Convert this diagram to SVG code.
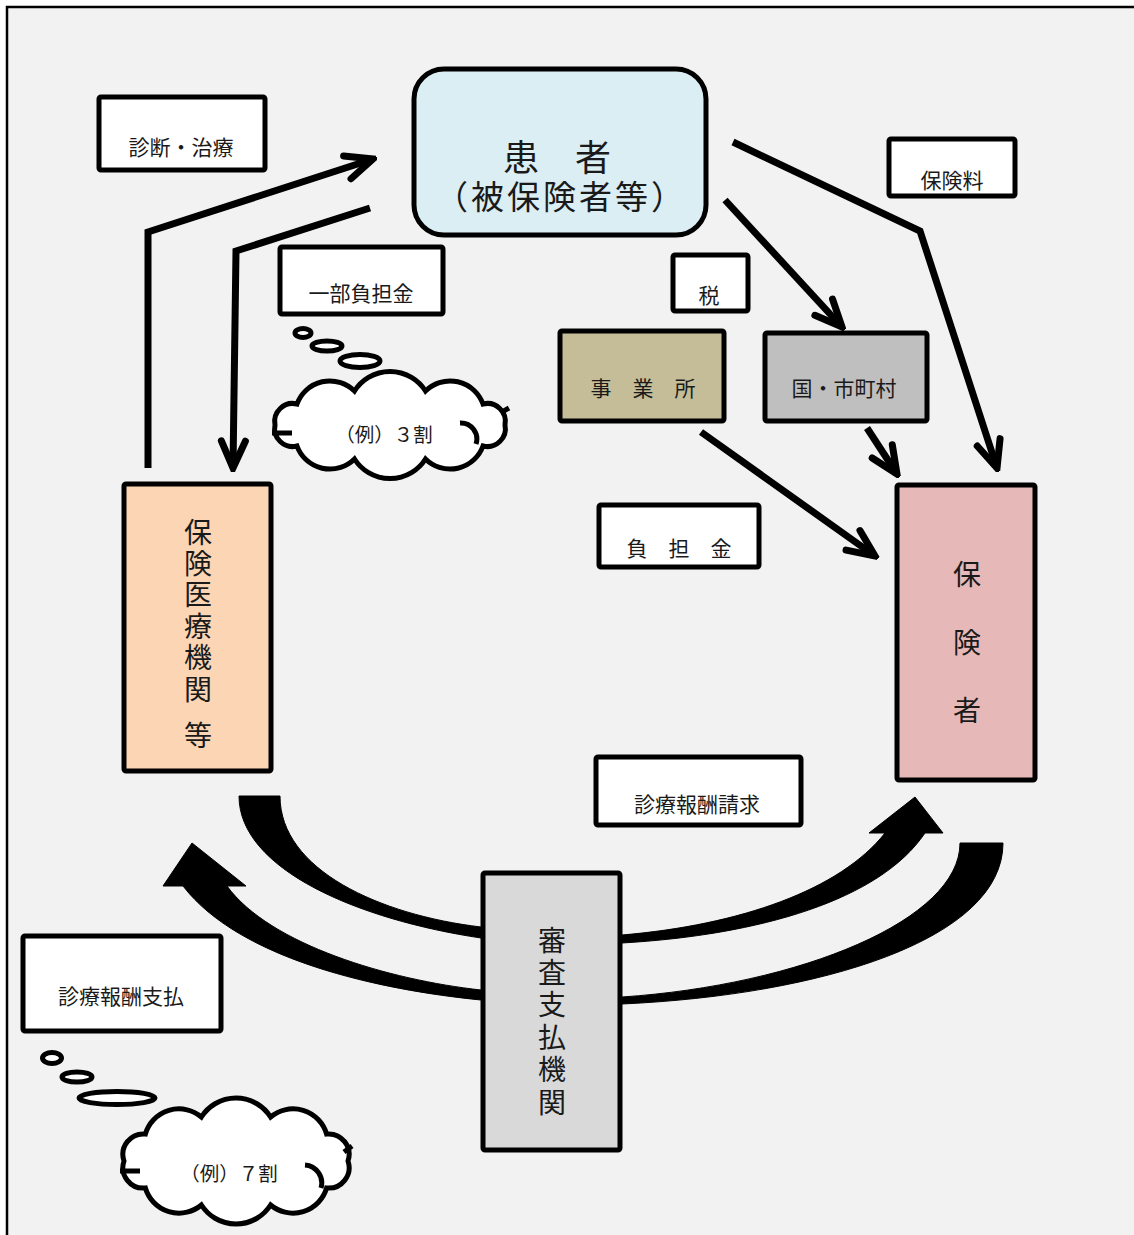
<svg xmlns="http://www.w3.org/2000/svg" width="1134" height="1235" viewBox="0 0 1134 1235">
<defs>
<style>
.frame{fill:#f2f2f2;stroke:#000;stroke-width:2.5}
.box{stroke:#000;stroke-width:5}
.lbl{fill:#fff;stroke:#000;stroke-width:5}
.t{font-family:"Noto Sans CJK JP","Noto Sans CJK SC",sans-serif;font-size:21px;fill:#1a1a1a;text-anchor:middle}
.tv{font-size:28px}
.vert{font-family:"Noto Sans CJK JP","Noto Sans CJK SC",sans-serif;font-size:28px;fill:#1a1a1a;writing-mode:vertical-rl;text-anchor:start}
.conn{fill:none;stroke:#000;stroke-width:7;marker-end:url(#ah)}
.blk{fill:#000;stroke:#000;stroke-width:1;stroke-linejoin:round}
.cloud{fill:#fff;stroke:#000;stroke-width:5}
.inner{fill:none;stroke:#000;stroke-width:5}
</style>
<marker id="ah" viewBox="-36 -20 40 40" refX="0" refY="0" markerWidth="40" markerHeight="40" markerUnits="userSpaceOnUse" orient="auto">
<path d="M-27,-12 L0,0 L-27,12" fill="none" stroke="#000" stroke-width="7" stroke-linecap="round"/>
</marker>
</defs>
<rect x="0" y="0" width="1134" height="1235" fill="#fff"/>
<rect class="frame" x="7" y="7" width="1140" height="1240"/>

<g id="connectors">
<path class="conn" d="M148,468 L148,232 L373,159"/>
<path class="conn" d="M370,208 L236,251 L233,468"/>
<path class="conn" d="M733,142 L920,231 L997,468"/>
<path class="conn" d="M725,200 L842,327"/>
<path class="conn" d="M867,428 L897,474"/>
<path class="conn" d="M701,432 L875,556"/>
<path class="blk" d="M239,796 L280,796 C280,870 380,915 481,927 L481,938 C360,920 239,870 239,796 Z"/>
<path class="blk" d="M183,886 L163,886 L192,843 L246,886 L227,886 C270,945 390,980 481,990 L481,1000 C380,990 240,960 183,886 Z"/>
<path class="blk" d="M622,935 C740,925 840,890 885,833 L869,833 L915,797 L943,833 L925,833 C880,900 760,935 622,943 Z"/>
<path class="blk" d="M960,843 L1003,843 C1003,940 820,995 622,1004 L622,997 C800,985 960,920 960,843 Z"/>
</g>

<g id="patient">
<rect class="box" x="414" y="69" width="292" height="166" rx="30" fill="#dbeef4"/>
<text class="t"><tspan x="557" y="171" style="font-size:36px">患　者</tspan><tspan x="561" y="209" style="font-size:33px;letter-spacing:3px">（被保険者等）</tspan></text>
</g>

<g id="label-shindan">
<rect class="lbl" x="99" y="97" width="166" height="73" rx="2"/>
<text class="t" x="181" y="155">診断・治療</text>
</g>

<g id="label-ichibu">
<rect class="lbl" x="280" y="247" width="163" height="67" rx="2"/>
<text class="t" x="361" y="301">一部負担金</text>
</g>

<g id="label-hokenryo">
<rect class="lbl" x="889" y="139" width="126" height="57" rx="2"/>
<text class="t" x="952" y="188">保険料</text>
</g>

<g id="label-zei">
<rect class="lbl" x="673" y="255" width="75" height="56" rx="2"/>
<text class="t" x="709" y="303">税</text>
</g>

<g id="jigyosho">
<rect class="box" x="560" y="331" width="164" height="90" rx="2" fill="#c4bd97"/>
<text class="t" x="643" y="396">事　業　所</text>
</g>

<g id="kuni">
<rect class="box" x="765" y="333" width="162" height="88" rx="2" fill="#bfbfbf"/>
<text class="t" x="844" y="396">国・市町村</text>
</g>

<g id="label-futankin">
<rect class="lbl" x="599" y="505" width="160" height="62" rx="2"/>
<text class="t" x="679" y="556">負　担　金</text>
</g>

<g id="iryokikan">
<rect class="box" x="124" y="484" width="147" height="287" rx="2" fill="#fcd5b4"/>
<text class="vert" x="198" y="518" style="letter-spacing:3.4px">保険医療機関</text>
<text class="t tv" x="198" y="746">等</text>
</g>

<g id="hokensha">
<rect class="box" x="897" y="485" width="138" height="295" rx="2" fill="#e6b9b8"/>
<text class="t tv" x="967" y="585">保</text>
<text class="t tv" x="967" y="653">険</text>
<text class="t tv" x="967" y="721">者</text>
</g>

<g id="shinsa">
<rect class="box" x="483" y="873" width="137" height="277" rx="2" fill="#d9d9d9"/>
<text class="vert" x="552" y="926" style="letter-spacing:4.4px">審査支払機関</text>
</g>

<g id="label-seikyu">
<rect class="lbl" x="596" y="757" width="205" height="68" rx="2"/>
<text class="t" x="697" y="812">診療報酬請求</text>
</g>

<g id="label-shiharai">
<rect class="lbl" x="23" y="936" width="198" height="95" rx="2"/>
<text class="t" x="121" y="1004">診療報酬支払</text>
</g>

<g id="cloud-3wari">
<ellipse class="cloud" cx="303" cy="333" rx="8" ry="4.5" stroke-width="4"/>
<ellipse class="cloud" cx="327" cy="346" rx="15" ry="5" stroke-width="4"/>
<ellipse class="cloud" cx="360" cy="361" rx="20" ry="6.5" stroke-width="4"/>
<path class="cloud" d="M505,425 A18,18 0 0 1 483,446 A35,35 0 0 1 425.5,459 A42,42 0 0 1 354.5,459 A35,35 0 0 1 297,446 A18,18 0 0 1 275,425 A18,18 0 0 1 297,404 A35,35 0 0 1 354.5,391 A42,42 0 0 1 425.5,391 A35,35 0 0 1 483,404 A18,18 0 0 1 505,425 Z"/>
<path class="inner" d="M272,433 L292,433 M460,423 A16,16 0 0 1 476,444 M502,412 L509,408"/>
<text class="t" x="384" y="442" style="font-size:19.5px">（例）３割</text>
</g>

<g id="cloud-7wari">
<ellipse class="cloud" cx="52" cy="1058" rx="9.5" ry="5.5" stroke-width="4"/>
<ellipse class="cloud" cx="77" cy="1077" rx="15" ry="5" stroke-width="4"/>
<ellipse class="cloud" cx="117" cy="1098" rx="38" ry="6.5" stroke-width="4"/>
<path class="cloud" d="M348,1161 A20.5,20.5 0 0 1 326.6,1188 A35,35 0 0 1 270.6,1205 A41,41 0 0 1 201.4,1205 A35,35 0 0 1 145.4,1188 A20.5,20.5 0 0 1 124,1161 A20.5,20.5 0 0 1 145.4,1134 A35,35 0 0 1 201.4,1117 A41,41 0 0 1 270.6,1117 A35,35 0 0 1 326.6,1134 A20.5,20.5 0 0 1 348,1161 Z"/>
<path class="inner" d="M120,1171 L140,1171 M305,1165 A18,18 0 0 1 321,1188 M344,1152 L352,1146"/>
<text class="t" x="229" y="1181" style="font-size:19.5px">（例）７割</text>
</g>
</svg>
